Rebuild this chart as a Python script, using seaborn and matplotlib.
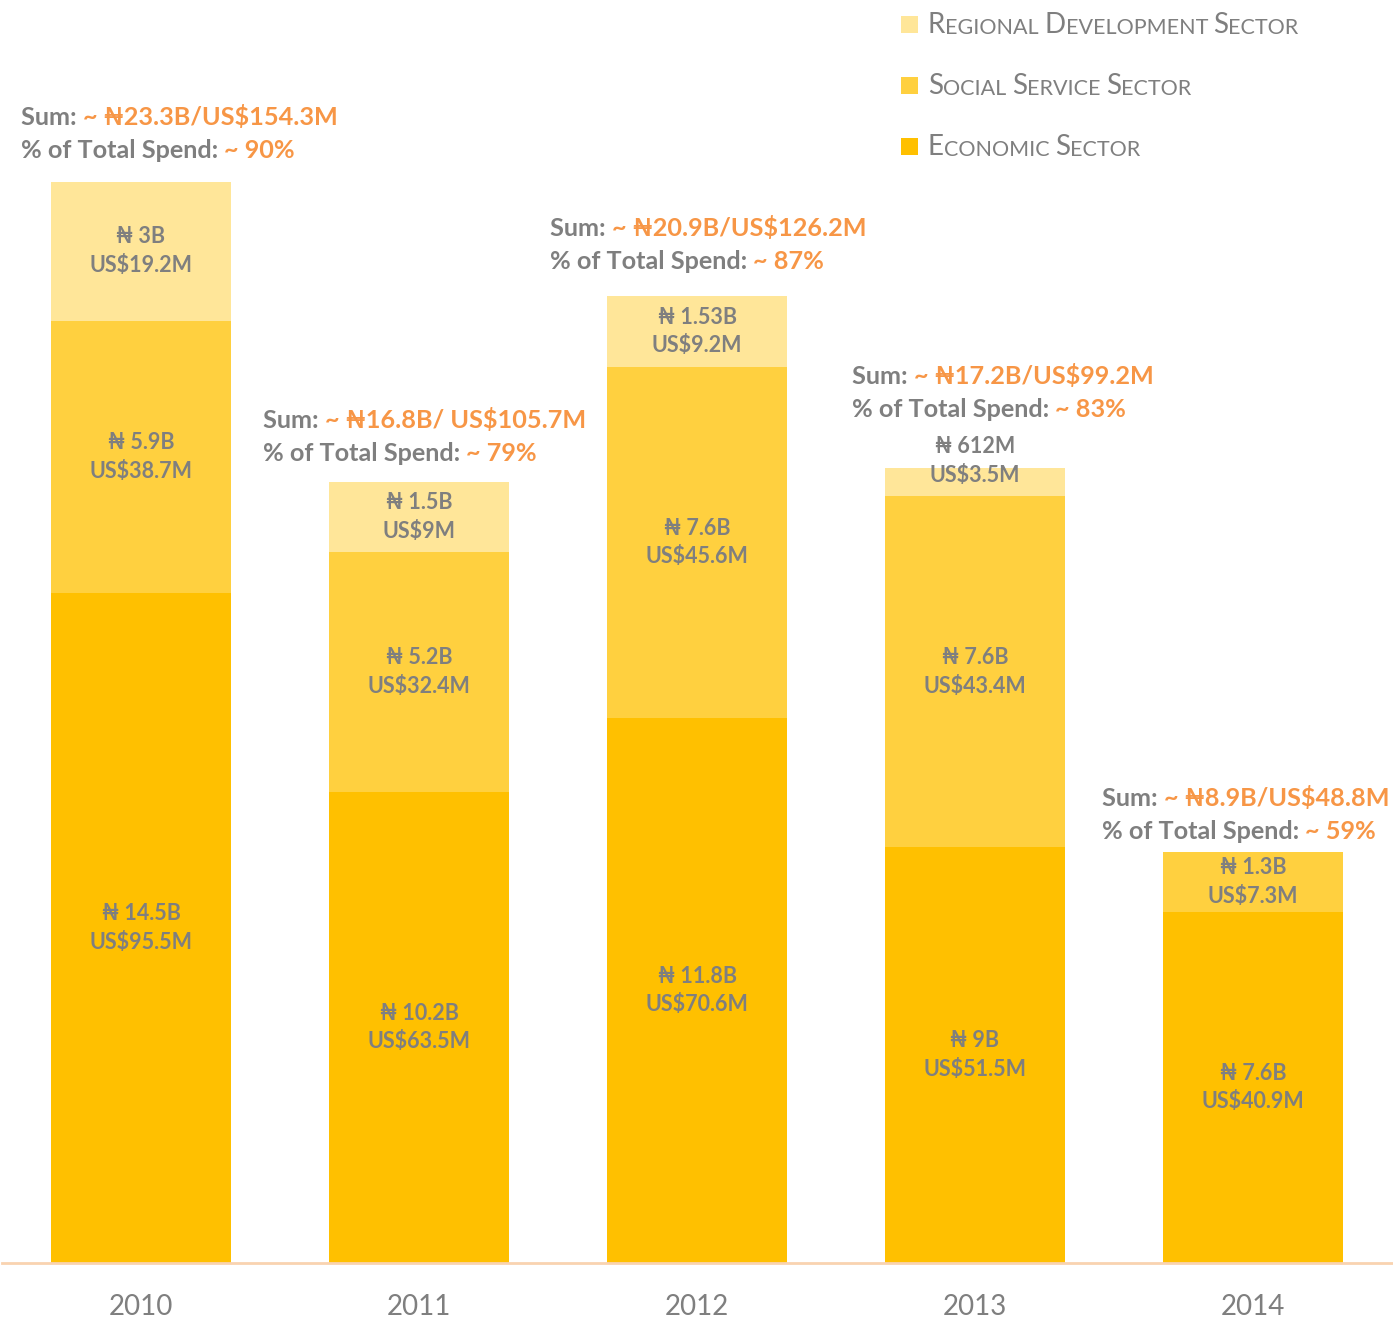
import numpy as np
import pandas as pd
import seaborn as sns
import matplotlib
import matplotlib.pyplot as plt
from matplotlib.patches import Rectangle

years = ['2010', '2011', '2012', '2013', '2014']
# values in Naira billions (bar heights) and US$ millions (labels)
economic_ngn = [14.5, 10.2, 11.8, 9.0, 7.6]
social_ngn = [5.9, 5.2, 7.6, 7.6, 1.3]
regional_ngn = [3.0, 1.5, 1.53, 0.612, 0.0]
economic_usd = [95.5, 63.5, 70.6, 51.5, 40.9]
social_usd = [38.7, 32.4, 45.6, 43.4, 7.3]
regional_usd = [19.2, 9, 9.2, 3.5, 0]
sum_text = ['~ ₦23.3B/US$154.3M', '~ ₦16.8B/ US$105.7M', '~ ₦20.9B/US$126.2M',
            '~ ₦17.2B/US$99.2M', '~ ₦8.9B/US$48.8M']
pct_total = [90, 79, 87, 83, 59]
sectors = ['Regional Development Sector', 'Social Service Sector', 'Economic Sector']

c_econ = '#FFC000'
c_social = '#FFD03F'
c_regional = '#FFE699'
gray = '#7F7F7F'
orange = '#F79646'

sns.set_style('white')
plt.rcParams['font.family'] = ['Lato', 'DejaVu Sans']

W, H = 1393, 1318
fig = plt.figure(figsize=(W / 100, H / 100), dpi=100)
ax = fig.add_axes([2 / W, 55 / H, 1390 / W, 1263 / H])

df = pd.DataFrame({'year': years, 'econ': economic_ngn, 'social': social_ngn,
                   'regional': regional_ngn})
df['econ_social'] = df['econ'] + df['social']
df['total'] = df['econ_social'] + df['regional']

# stacked bars drawn back to front
for col, c in [('total', c_regional), ('econ_social', c_social), ('econ', c_econ)]:
    sns.barplot(data=df, x='year', y=col, color=c, saturation=1, width=0.645,
                linewidth=0, ax=ax)

ax.set_ylim(0, 27.34)
ax.set_xlim(-0.5, 4.5)
ax.set_xlabel('')
ax.set_ylabel('')
ax.set_yticks([])
sns.despine(ax=ax, left=True)
ax.spines['bottom'].set_color('#F9D3B0')
ax.spines['bottom'].set_linewidth(2)
ax.tick_params(axis='x', length=0, pad=22, labelsize=20, labelcolor=gray)

def ngn_fmt(v):
    if v < 1:
        return f'₦ {v * 1000:g}M'
    return f'₦ {v:g}B'

lab_kw = dict(ha='center', va='center', color=gray, fontsize=15.5, fontweight='bold',
              linespacing=1.45)
for i in range(len(years)):
    segs = [(0, economic_ngn[i], economic_usd[i]),
            (economic_ngn[i], social_ngn[i], social_usd[i]),
            (economic_ngn[i] + social_ngn[i], regional_ngn[i], regional_usd[i])]
    for b, h, usd in segs:
        if h <= 0:
            continue
        txt = f'{ngn_fmt(h)}\nUS${usd:g}M'
        if h < 1:
            ax.annotate(txt, xy=(i, b + h), xytext=(0, 7), textcoords='offset pixels', **lab_kw)
        else:
            ax.text(i, b + h / 2, txt, **lab_kw)

# sum annotations above each bar
sum_left_px = [21, 263, 550, 852, 1102]
sum_gap_px = [24, 21, 27, 51, 13]
sum_kw = dict(fontsize=18.2, fontweight='bold')
for i in range(len(years)):
    xl = (sum_left_px[i] - 2) / 278 - 0.5
    top = df['total'][i]
    t1 = ax.annotate('Sum: ', xy=(xl, top), xytext=(0, sum_gap_px[i] + 33),
                     textcoords='offset pixels', ha='left', va='baseline', color=gray,
                     annotation_clip=False, **sum_kw)
    ax.annotate(sum_text[i], xy=(1, 0), xycoords=t1, ha='left', va='bottom',
                color=orange, **sum_kw)
    t3 = ax.annotate('% of Total Spend: ', xy=(xl, top), xytext=(0, sum_gap_px[i]),
                     textcoords='offset pixels', ha='left', va='baseline', color=gray,
                     annotation_clip=False, **sum_kw)
    ax.annotate(f'~ {pct_total[i]}%', xy=(1, 0), xycoords=t3, ha='left', va='bottom',
                color=orange, **sum_kw)

# legend with small caps look
leg_colors = [c_regional, c_social, c_econ]
leg_base_px = [33, 94, 155]
for lab, c, yb in zip(sectors, leg_colors, leg_base_px):
    fig.add_artist(Rectangle((901 / W, 1 - yb / H), 17 / W, 17 / H, color=c,
                             transform=fig.transFigure, lw=0))
    prev = None
    for w in lab.split(' '):
        parts = [(w[0], 20), (w[1:].upper() + ' ', 15.5)]
        for s, fs in parts:
            if prev is None:
                prev = fig.text(928 / W, 1 - yb / H, s, fontsize=fs, color=gray,
                                ha='left', va='baseline')
            else:
                prev = ax.annotate(s, xy=(1, 0), xycoords=prev, ha='left', va='bottom',
                                   fontsize=fs, color=gray, annotation_clip=False)

fig.savefig('out.png', dpi=100)
